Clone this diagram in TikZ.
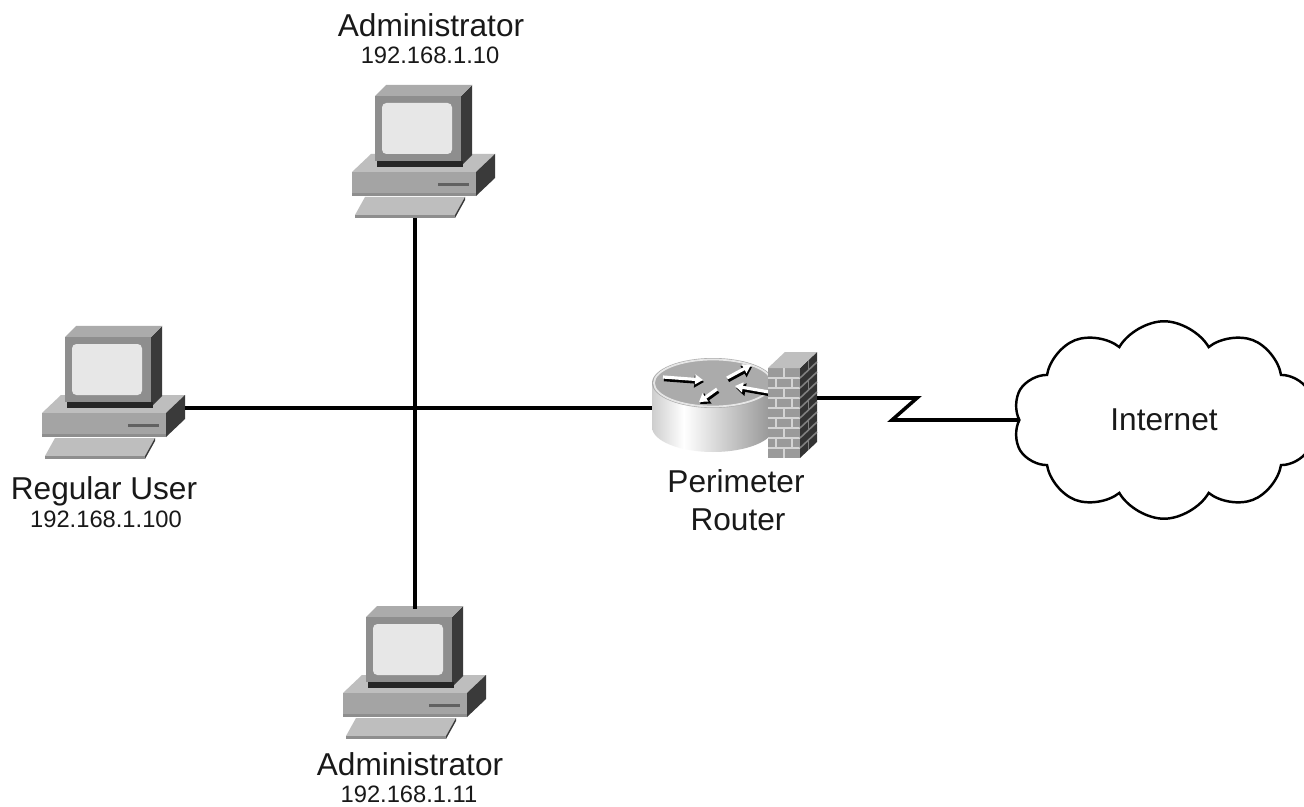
\documentclass[tikz,border=0pt]{standalone}
\usepackage{fontspec}
\setmainfont{Liberation Sans}
\usetikzlibrary{arrows.meta,shapes.symbols}
\definecolor{pcdark}{HTML}{3A3A3A}
\definecolor{pcmid}{HTML}{8E8E8E}
\definecolor{pclight}{HTML}{BEBEBE}
\definecolor{pcfront}{HTML}{A4A4A4}
\definecolor{pcscreen}{HTML}{E7E7E7}
\definecolor{rtrtop}{HTML}{ABABAB}
\definecolor{rtrdark}{HTML}{6A6A6A}
\definecolor{rtrmid}{HTML}{9C9C9C}
\definecolor{brick}{HTML}{9A9A9A}
\definecolor{mortar}{HTML}{D4D4D4}
\pgfdeclarehorizontalshading{rtrside}{100bp}{color(0bp)=(rtrdark); color(12bp)=(rtrmid); color(38bp)=(white); color(72bp)=(rtrmid); color(100bp)=(rtrdark)}

\begin{document}
\begin{tikzpicture}[x=0.02cm,y=-0.02cm,
  wire/.style={line width=2pt,line join=miter},
  lbl/.style={font=\fontsize{18}{22}\selectfont,inner sep=0pt,text=black!90},
  addr/.style={font=\fontsize{13.5}{16}\selectfont,inner sep=0pt,text=black!90},
  pc/.pic={
    \fill[pclight] (0,0) -- (19,-18) -- (143,-18) -- (124,0) -- cycle;
    \fill[pcdark] (124,0) -- (143,-18) -- (143,6) -- (124,24) -- cycle;
    \fill[pcfront] (0,0) rectangle (124,24);
    \fill[pcmid] (0,21) rectangle (124,24);
    \fill[pcdark!80] (86,11) rectangle (117,14);
    \fill[pclight] (13,25) -- (113,25) -- (103,43) -- (3,43) -- cycle;
    \fill[pcmid] (3,43) rectangle (103,46);
    \fill[pcdark] (113,25) -- (113,28) -- (103,46) -- (103,43) -- cycle;
    \fill[pcdark] (109,-76) -- (120,-87) -- (120,-17) -- (109,-6) -- cycle;
    \fill[pclight!90!black] (23,-76) -- (34,-87) -- (120,-87) -- (109,-76) -- cycle;
    \fill[pcmid] (23,-76) rectangle (109,-11);
    \fill[black!85] (25,-11) rectangle (111,-5);
    \fill[pcscreen,rounded corners=2.5pt] (30,-69) rectangle (100,-18);
    \coordinate (-kb) at (63,46);
    \coordinate (-side) at (143,-5);
    \coordinate (-head) at (72,-84);
  },
  router/.pic={
    \shade[shading=rtrside] (-61,0) -- (-61,44)
      arc[start angle=180,end angle=0,x radius=61,y radius=25] -- (61,0) -- cycle;
    \fill[rtrtop] (0,0) ellipse[x radius=61,y radius=25];
    \draw[white!70!rtrtop,line width=1pt] (0,0) ellipse[x radius=59,y radius=23.5];
    \begin{scope}[shift={(1,2)}]
      \foreach \p/\q in {{-50,-6}/{-10,-3},{14,-5}/{38,-18},{56,9}/{22,3},{4,6}/{-14,19}}
        \draw[black,line width=2.6pt,-{Triangle[length=5.5pt,width=7pt]}] (\p) -- (\q);
    \end{scope}
    \foreach \p/\q in {{-50,-6}/{-10,-3},{14,-5}/{38,-18},{56,9}/{22,3},{4,6}/{-14,19}}
      \draw[white,line width=1.8pt,-{Triangle[length=4.5pt,width=5.5pt]}] (\p) -- (\q);
    \fill[brick] (55,-15) rectangle (87,75);
    \fill[black!80] (87,-15) -- (104,-31) -- (104,59) -- (87,75) -- cycle;
    \fill[black!25] (55,-15) -- (72,-31) -- (104,-31) -- (87,-15) -- cycle;
    \foreach \k in {1,...,8} {
      \draw[mortar,line width=0.9pt] (55,-15+10*\k) -- (87,-15+10*\k);
      \draw[black!50,line width=0.9pt] (87,-15+10*\k) -- (104,-31+10*\k);
    }
    \foreach \k in {0,2,4,6,8} {
      \draw[mortar,line width=0.9pt] (71,-15+10*\k) -- (71,-5+10*\k);
      \draw[black!50,line width=0.9pt] (95.5,-23+10*\k) -- (95.5,-13+10*\k);
    }
    \foreach \k in {1,3,5,7} {
      \draw[mortar,line width=0.9pt] (63,-15+10*\k) -- (63,-5+10*\k);
      \draw[mortar,line width=0.9pt] (79,-15+10*\k) -- (79,-5+10*\k);
    }
    \coordinate (-west) at (-61,25);
    \coordinate (-east) at (104,15);
  }]
  \useasboundingbox (0,0) rectangle (1304,807);
  \fill[white] (0,0) rectangle (1304,807);

  \coordinate (hub) at (415,408);
  \pic (admintop) at (352,172) {pc};
  \pic (user) at (42,413) {pc};
  \pic (adminbot) at (343,693) {pc};
  \pic (rtr) at (713,383) {router};
  \node[cloud,draw,line width=1.4pt,cloud puffs=10,cloud puff arc=120,
        cloud ignores aspect,minimum width=6.05cm,minimum height=3.95cm,lbl] (inet) at (1164,420) {Internet};

  \draw[wire] (admintop-kb) -- (hub) -- (adminbot-head);
  \draw[wire] (user-side) -- (hub) -- (rtr-west);
  \draw[wire] (rtr-east) -- ++(100,0) -- ++(-25,22) -- (inet.west);

  \node[lbl,anchor=base] (admintopname) at (431,37) {Administrator};
  \node[addr,anchor=base] (admintopip) at (430,64) {192.168.1.10};
  \node[lbl,anchor=base] (username) at (104,499) {Regular User};
  \node[addr,anchor=base] (userip) at (106,527) {192.168.1.100};
  \node[lbl,anchor=base] (rtrname) at (736,492) {Perimeter};
  \node[lbl,anchor=base] (rtrname2) at (738,530) {Router};
  \node[lbl,anchor=base] (adminbotname) at (410,775) {Administrator};
  \node[addr,anchor=base] (adminbotip) at (409,802) {192.168.1.11};
\end{tikzpicture}
\end{document}
